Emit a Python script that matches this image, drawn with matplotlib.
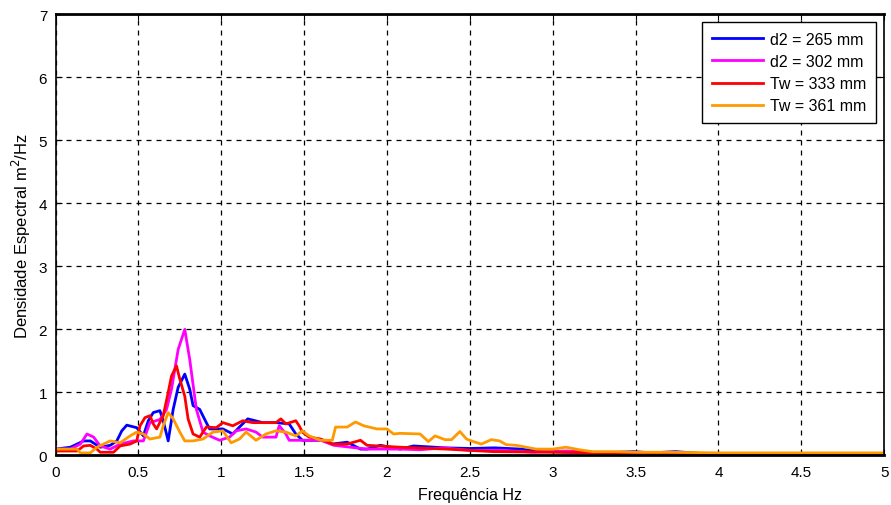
import numpy as np
import matplotlib
matplotlib.use("Agg")
import matplotlib.pyplot as plt

# espectros (frequencia em Hz, densidade em m2/Hz)
f_d265 = [0, 0.09, 0.17, 0.21, 0.27, 0.33, 0.37, 0.40, 0.43, 0.49, 0.53, 0.56, 0.59, 0.63,
          0.65, 0.68, 0.71, 0.74, 0.78, 0.81, 0.83, 0.87, 0.91, 0.93, 1.01, 1.07, 1.11, 1.16,
          1.25, 1.33, 1.41, 1.45, 1.49, 1.55, 1.63, 1.67, 1.76, 1.84, 1.88, 1.96, 2.08, 2.16,
          2.35, 2.5, 2.65, 2.81, 2.93, 3.1, 3.3, 3.49, 3.6, 3.74, 3.9, 4.2, 4.5, 4.8, 5.0]
s_d265 = [0.10, 0.13, 0.23, 0.23, 0.13, 0.16, 0.23, 0.39, 0.48, 0.44, 0.31, 0.55, 0.68, 0.71,
          0.55, 0.23, 0.73, 1.08, 1.29, 1.05, 0.79, 0.73, 0.52, 0.42, 0.42, 0.34, 0.45, 0.58,
          0.52, 0.52, 0.50, 0.34, 0.24, 0.24, 0.24, 0.18, 0.21, 0.10, 0.10, 0.16, 0.10, 0.15,
          0.12, 0.11, 0.12, 0.10, 0.06, 0.05, 0.04, 0.06, 0.04, 0.06, 0.03, 0.03, 0.02, 0.02, 0.02]

f_d302 = [0, 0.09, 0.15, 0.19, 0.23, 0.27, 0.33, 0.39, 0.47, 0.53, 0.57, 0.63, 0.67, 0.70,
          0.74, 0.78, 0.81, 0.85, 0.89, 0.93, 0.99, 1.05, 1.09, 1.15, 1.21, 1.25, 1.33, 1.35,
          1.39, 1.41, 1.51, 1.60, 1.68, 1.88, 2.08, 2.2, 2.34, 2.5, 2.7, 2.88, 3.08, 3.3,
          3.6, 4.0, 4.5, 5.0]
s_d302 = [0.10, 0.10, 0.18, 0.34, 0.29, 0.15, 0.10, 0.18, 0.23, 0.23, 0.52, 0.57, 0.73, 1.05,
          1.68, 2.00, 1.52, 0.73, 0.37, 0.31, 0.24, 0.29, 0.39, 0.42, 0.37, 0.29, 0.29, 0.47,
          0.34, 0.24, 0.24, 0.24, 0.16, 0.10, 0.10, 0.09, 0.12, 0.08, 0.08, 0.05, 0.07, 0.04,
          0.03, 0.03, 0.02, 0.02]

f_tw333 = [0, 0.13, 0.17, 0.21, 0.25, 0.27, 0.35, 0.39, 0.45, 0.49, 0.51, 0.54, 0.57, 0.59,
           0.61, 0.65, 0.68, 0.70, 0.73, 0.75, 0.78, 0.80, 0.83, 0.87, 0.91, 0.97, 1.01, 1.07,
           1.13, 1.19, 1.25, 1.33, 1.36, 1.39, 1.45, 1.47, 1.49, 1.53, 1.60, 1.67, 1.76, 1.84,
           1.88, 2.08, 2.36, 2.64, 3.05, 3.4, 3.7, 3.95, 4.5, 5.0]
s_tw333 = [0.07, 0.07, 0.15, 0.16, 0.10, 0.05, 0.05, 0.15, 0.18, 0.23, 0.47, 0.60, 0.63, 0.50,
           0.42, 0.63, 1.00, 1.26, 1.42, 1.21, 0.94, 0.58, 0.34, 0.29, 0.45, 0.44, 0.52, 0.47,
           0.55, 0.52, 0.52, 0.52, 0.58, 0.50, 0.55, 0.47, 0.37, 0.29, 0.26, 0.18, 0.18, 0.24,
           0.16, 0.13, 0.10, 0.06, 0.05, 0.04, 0.04, 0.02, 0.02, 0.02]

f_tw361 = [0, 0.13, 0.15, 0.21, 0.25, 0.33, 0.39, 0.45, 0.49, 0.53, 0.57, 0.63, 0.65, 0.68,
           0.71, 0.75, 0.78, 0.83, 0.89, 0.95, 1.01, 1.06, 1.11, 1.15, 1.21, 1.27, 1.33, 1.39,
           1.45, 1.49, 1.53, 1.60, 1.67, 1.69, 1.76, 1.81, 1.86, 1.94, 2.00, 2.04, 2.08, 2.20,
           2.25, 2.29, 2.35, 2.39, 2.44, 2.48, 2.52, 2.57, 2.63, 2.68, 2.72, 2.78, 2.84, 2.90,
           3.00, 3.08, 3.16, 3.24, 3.37, 3.51, 3.7, 4.0, 4.5, 5.0]
s_tw361 = [0.10, 0.10, 0.04, 0.04, 0.13, 0.23, 0.20, 0.31, 0.37, 0.34, 0.26, 0.29, 0.47, 0.68,
           0.58, 0.37, 0.23, 0.23, 0.26, 0.37, 0.39, 0.20, 0.26, 0.37, 0.24, 0.34, 0.39, 0.37,
           0.31, 0.39, 0.31, 0.24, 0.24, 0.45, 0.45, 0.53, 0.47, 0.42, 0.42, 0.34, 0.35, 0.34,
           0.22, 0.31, 0.25, 0.25, 0.38, 0.26, 0.22, 0.18, 0.25, 0.23, 0.17, 0.16, 0.13, 0.10,
           0.10, 0.13, 0.09, 0.06, 0.06, 0.05, 0.05, 0.04, 0.04, 0.04]

x_ticks = [0, 0.5, 1, 1.5, 2, 2.5, 3, 3.5, 4, 4.5, 5]
y_ticks = [0, 1, 2, 3, 4, 5, 6, 7]

plt.rcParams['font.family'] = ['Liberation Sans', 'DejaVu Sans']

fig = plt.figure(figsize=(8.91, 5.06), dpi=100, facecolor='w')
ax = fig.add_axes([0.0623, 0.098, 0.930, 0.872])

ax.plot(f_d265, s_d265, color='#0000ff', lw=2, label='d2 = 265 mm')
ax.plot(f_d302, s_d302, color='#ff00ff', lw=2, label='d2 = 302 mm')
ax.plot(f_tw333, s_tw333, color='#ff0000', lw=2, label='Tw = 333 mm')
ax.plot(f_tw361, s_tw361, color='#ff9900', lw=2, label='Tw = 361 mm')

ax.set_xlim(0, 5)
ax.set_ylim(0, 7)
ax.set_xticks(x_ticks)
ax.set_xticklabels([f"{t:g}" for t in x_ticks])
ax.set_yticks(y_ticks)
ax.grid(True, color='k', linestyle=(0, (4, 4)), linewidth=0.9)
ax.tick_params(direction='in', length=4, labelsize=11, top=True, right=True)
ax.tick_params(axis='x', pad=7)
ax.tick_params(axis='y', pad=6)
for s in ax.spines.values():
    s.set_linewidth(1.2)
ax.spines['bottom'].set_linewidth(2)
ax.spines['top'].set_linewidth(2)

ax.set_xlabel('Frequência Hz', fontsize=11.5, labelpad=6)
ax.set_ylabel('Densidade Espectral m$^2$/Hz', fontsize=12, labelpad=4)

leg = ax.legend(loc='upper right', fontsize=11.5, fancybox=False, framealpha=1,
                edgecolor='k', handlelength=3.2, handletextpad=0.45,
                borderaxespad=0.5, borderpad=0.6, labelspacing=0.45)
leg.get_frame().set_linewidth(1)

fig.savefig('out.png', dpi=100)
